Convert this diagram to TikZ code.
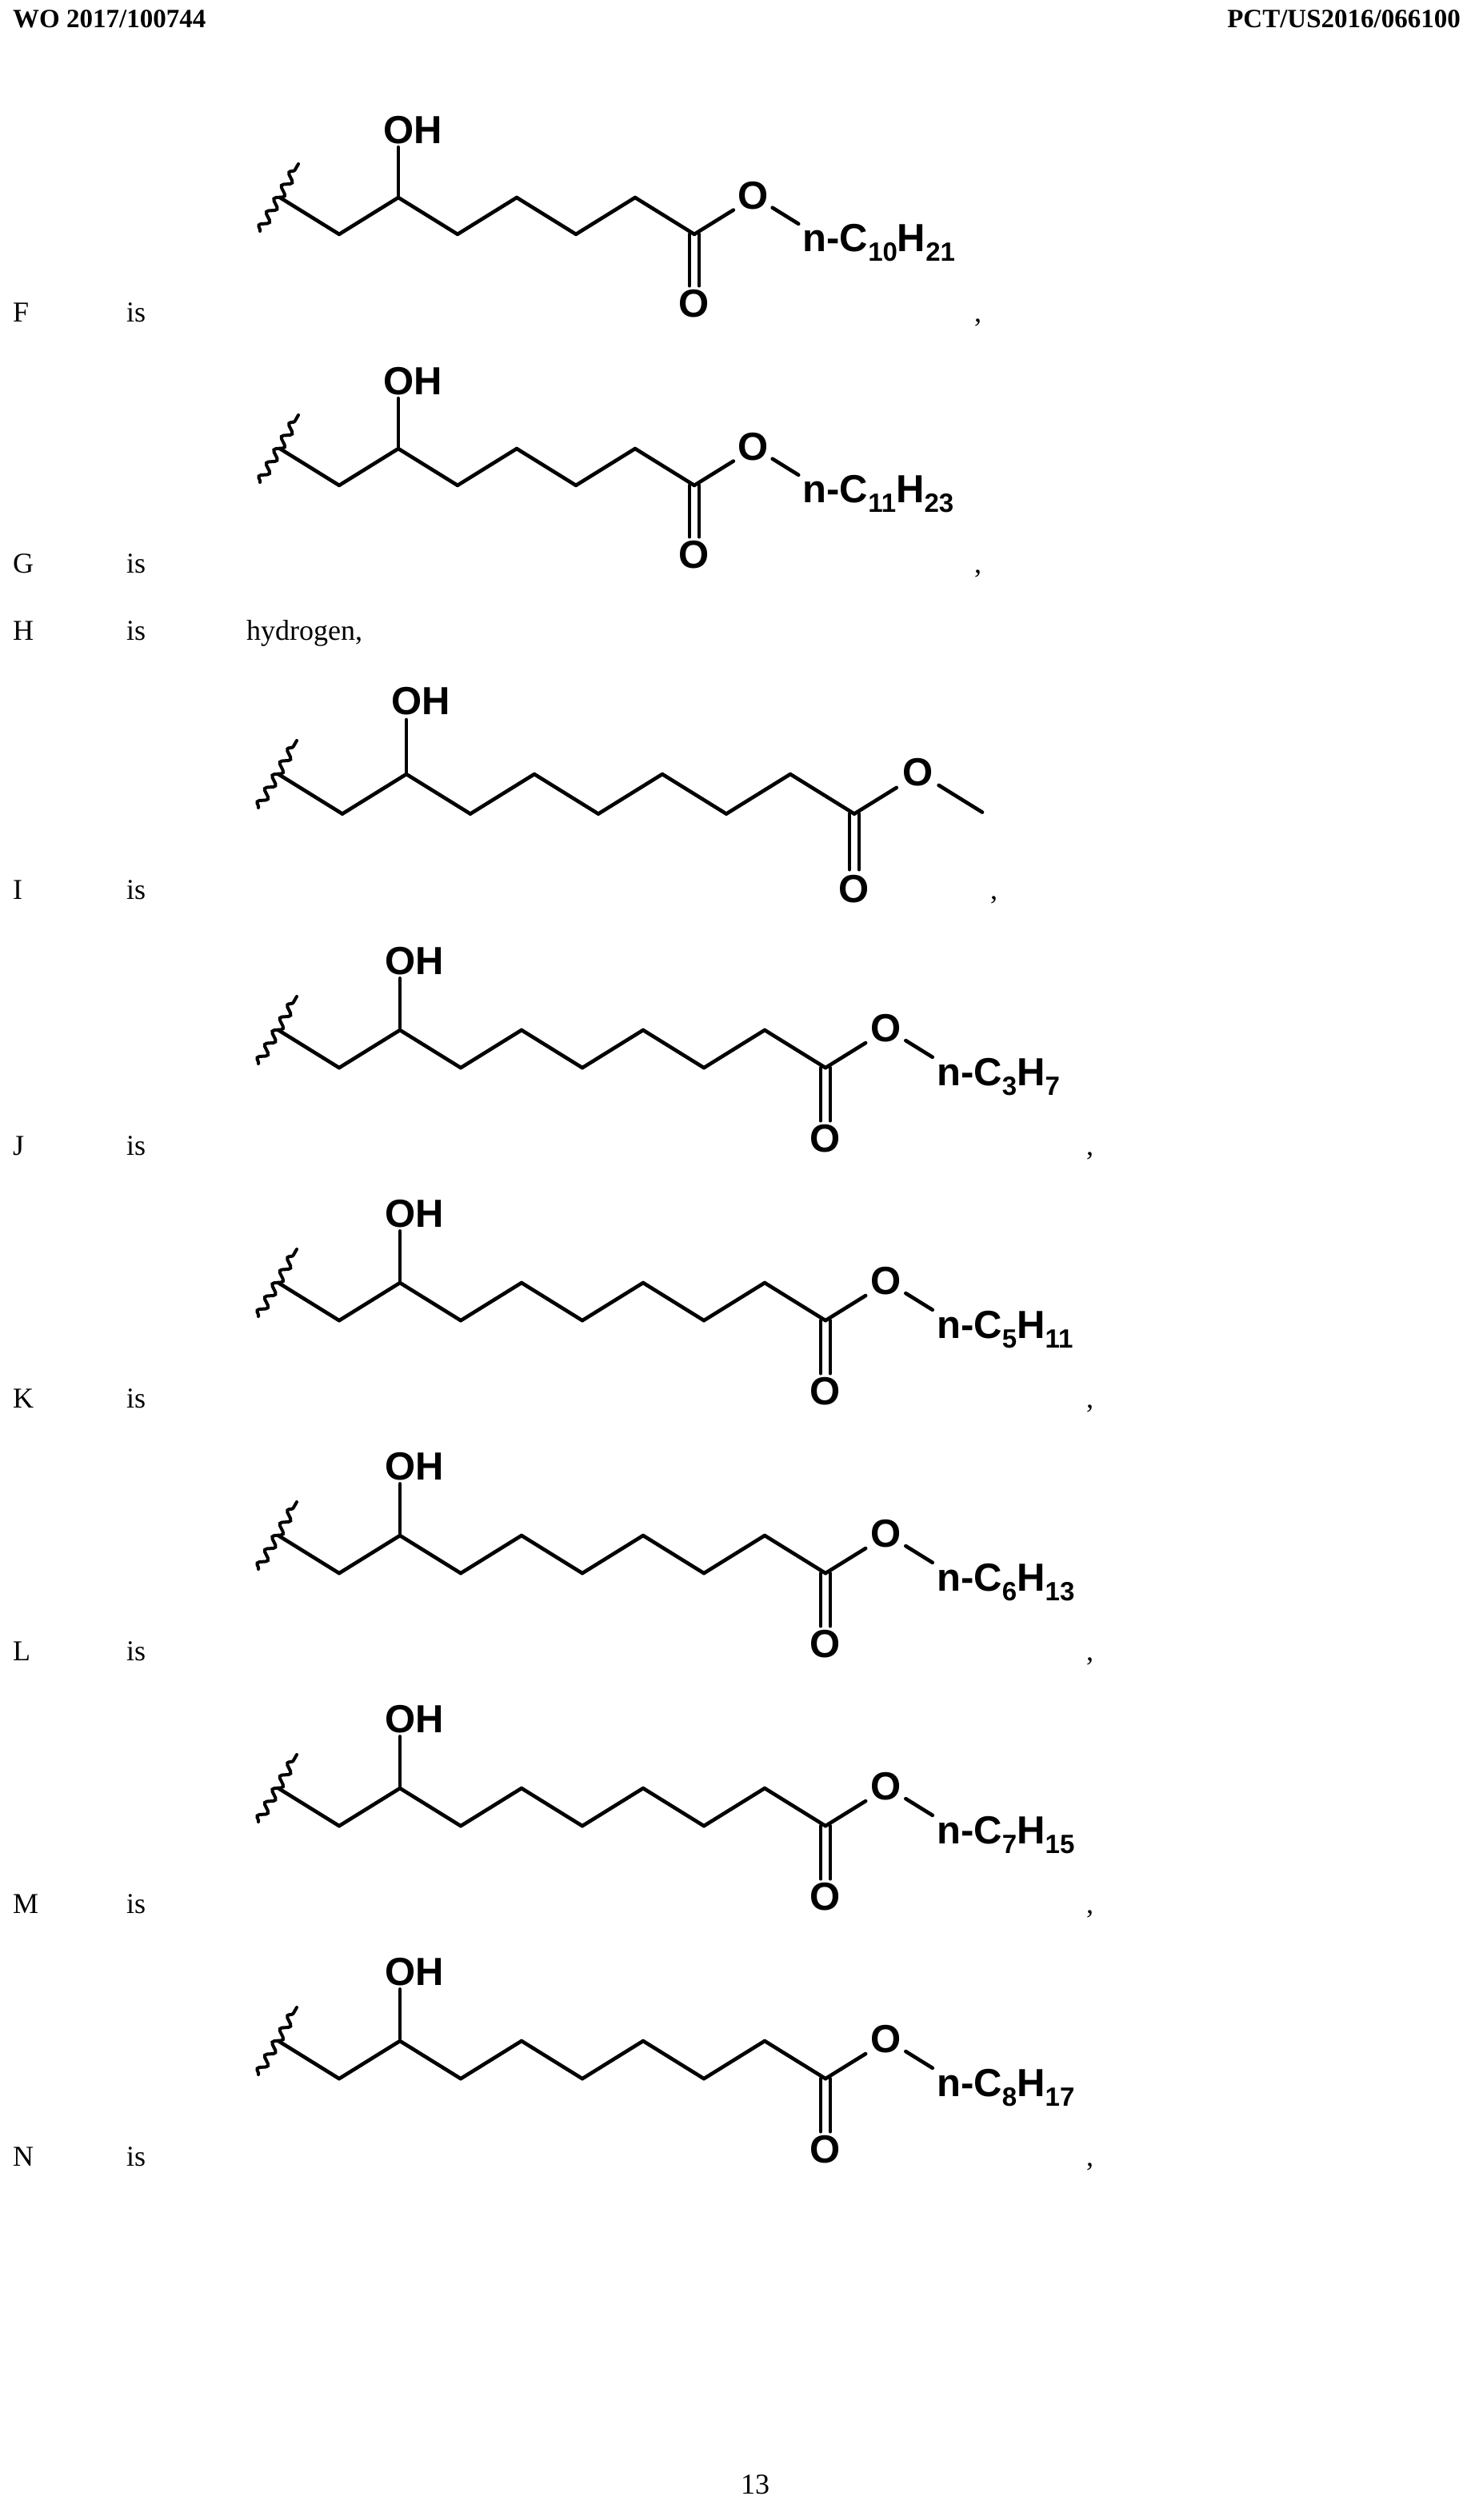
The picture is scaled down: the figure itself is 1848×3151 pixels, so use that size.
\documentclass[tikz,border=0pt]{standalone}
\usepackage{fontspec}
\setmainfont{Liberation Serif}
\newfontfamily\chemf{Liberation Sans}
\usetikzlibrary{decorations.pathmorphing,calc}
\tikzset{bond/.style={line width=4.6pt,line cap=round,line join=round},
 chem/.style={inner sep=0pt,font=\chemf\bfseries\fontsize{49}{50}\selectfont},
 lbl/.style={inner sep=0pt,anchor=base west,font=\fontsize{36}{40}\selectfont},
 wavy/.style={line width=4pt,line cap=round,decorate,decoration={snake,segment length=19pt,amplitude=5pt}}}
\newcommand\sbs[1]{\raisebox{-12pt}{\fontsize{33}{33}\selectfont #1}}
% #1 x0, #2 y0, #3 dx, #4 n, #5 tail text (empty = methyl), #6 id
\newcommand\mol[6]{%
 \pgfmathsetmacro\dY{0.62*#3}
 \pgfmathsetmacro\xC{#1+#4*#3}
 \pgfmathsetmacro\yC{#2+\dY}
 \coordinate (#6a) at (#1,#2);
 \draw[wavy] ($(#6a)+(-25,42)$) -- ($(#6a)+(23,-42)$);
 \foreach \k in {1,...,#4}{
  \pgfmathsetmacro\xa{#1+(\k-1)*#3}\pgfmathsetmacro\ya{#2+mod(\k-1,2)*\dY}
  \pgfmathsetmacro\xb{#1+\k*#3}\pgfmathsetmacro\yb{#2+mod(\k,2)*\dY}
  \draw[bond] (\xa,\ya) -- (\xb,\yb);}
 \coordinate (#6c) at (\xC,\yC);
 \coordinate (#6oh) at ({#1+2*#3},#2);
 \draw[bond] (#6oh) -- ++(0,{-0.85*#3});
 \node[chem,anchor=base west] (#6OH) at ({#1+2*#3-19},{#2-1.15*#3+17.5}) {OH};
 \draw[bond] ($(#6c)+(-6,0)$) -- ++(0,{0.87*#3});
 \draw[bond] ($(#6c)+(6,0)$) -- ++(0,{0.87*#3});
 \node[chem] (#6O2) at (\xC,{\yC+1.17*#3}) {O};
 \node[chem] (#6O1) at ({\xC+#3},{#2-2}) {O};
 \draw[bond] (#6c) -- ++({0.66*#3},{-0.66*\dY});
 \ifx&#5&
  \draw[bond] ($(#6O1)+({0.32*#3},{0.32*\dY})$) -- ($(#6O1)+(#3,\dY)$);
 \else
  \draw[bond] ($(#6O1)+({0.32*#3},{0.32*\dY})$) -- ($(#6O1)+({0.76*#3},{0.76*\dY})$);
  \node[chem,anchor=base west] (#6t) at ({\xC+1.83*#3},{\yC+22}) {#5};
 \fi}
\begin{document}
\begin{tikzpicture}[x=1pt,y=-1pt]
\useasboundingbox (0,0) rectangle (1848,3151);
\fill[white] (0,0) rectangle (1848,3151);
\node[anchor=base west,inner sep=0pt,font=\bfseries\fontsize{33}{36}\selectfont] (hl) at (16,34) {WO 2017/100744};
\node[anchor=base east,inner sep=0pt,font=\bfseries\fontsize{33}{36}\selectfont] (hr) at (1826,34) {PCT/US2016/066100};
\node[anchor=base,inner sep=0pt,font=\fontsize{36}{40}\selectfont] (pg) at (944,3118) {13};
\foreach \L/\y in {F/390,G/704,H/788,I/1112,J/1432,K/1748,L/2064,M/2380,N/2696}{
 \node[lbl] (l\L) at (16,\y+12) {\L};
 \node[lbl] (i\L) at (158,\y+12) {is};}
\node[lbl] (hyd) at (308,800) {hydrogen,};
\mol{350}{247}{74}{7}{n-C\sbs{10}H\sbs{21}}{F}
\mol{350}{561}{74}{7}{n-C\sbs{11}H\sbs{23}}{G}
\mol{348}{968}{80}{9}{}{I}
\mol{348}{1288}{76}{9}{n-C\sbs{3}H\sbs{7}}{J}
\mol{348}{1604}{76}{9}{n-C\sbs{5}H\sbs{11}}{K}
\mol{348}{1920}{76}{9}{n-C\sbs{6}H\sbs{13}}{L}
\mol{348}{2236}{76}{9}{n-C\sbs{7}H\sbs{15}}{M}
\mol{348}{2552}{76}{9}{n-C\sbs{8}H\sbs{17}}{N}
\foreach \x/\y [count=\i] in {1218/402,1218/716,1238/1124,1358/1444,1358/1760,1358/2076,1358/2392,1358/2708}
 \node[lbl] (cm\i) at (\x,\y) {,};
\end{tikzpicture}
\end{document}
